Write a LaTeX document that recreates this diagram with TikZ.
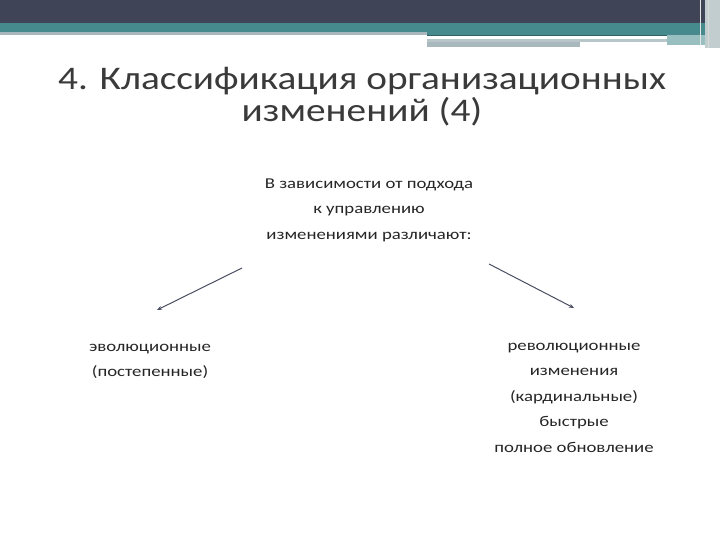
\documentclass[tikz,border=0pt]{standalone}
\usepackage{fontspec}
\setmainfont{Carlito}
\newfontfamily\titlefont[FakeStretch=1.19]{Carlito}
\newfontfamily\bodyfont[FakeStretch=1.25]{Carlito}
\usetikzlibrary{arrows.meta}
\definecolor{topdark}{HTML}{3F4456}
\definecolor{teal1}{HTML}{468A8E}
\definecolor{lgray}{HTML}{A8B8BC}
\definecolor{arrowc}{HTML}{4A4E62}
\definecolor{titlec}{HTML}{3A3A3A}
\tikzset{
  body/.style={align=center, font=\bodyfont\fontsize{15}{25.5}\selectfont, text=black!85, inner sep=0pt},
  conn/.style={draw=arrowc, line width=1pt, -{Stealth[length=5pt,width=4pt]}},
}
\begin{document}
\begin{tikzpicture}[x=1pt,y=1pt]
\useasboundingbox (0,0) rectangle (720,540);
\fill[white] (0,0) rectangle (720,540);
% top band
\fill[topdark] (0,540) rectangle (720,517);
\fill[teal1] (0,517) rectangle (720,508);
\fill[lgray] (0,508) rectangle (427,505);
\fill[teal1] (427,508) rectangle (705,505);
\fill[teal1!70!black] (427,505) rectangle (667,504);
\fill[lgray!80] (427,501) rectangle (667,498);
\fill[lgray] (427,498) rectangle (580,493);
\fill[teal1!55] (667,505) rectangle (705,495);
\fill[lgray!70!white] (705,540) rectangle (720,492);
\draw[white!80!gray, line width=1pt] (700,540) -- (700,495);
\draw[white!70!gray, line width=1pt] (708,540) -- (708,492);
% title
\node[font=\titlefont\fontsize{33}{33}\selectfont, text=titlec, align=center, inner sep=0pt] (title) at (362,443)
  {4. Классификация организационных\\[-1pt] изменений (4)};
% centre
\node[body] (top) at (369,330) {В зависимости от подхода\\к управлению\\изменениями различают:};
\node[body] (left) at (150,178.5) {эволюционные\\(постепенные)};
\node[body, anchor=north] (right) at (574,197) {революционные\\изменения\\(кардинальные)\\быстрые\\полное обновление};
\coordinate (ls) at (242,272);
\coordinate (le) at (157,230);
\coordinate (rs) at (489,276);
\coordinate (re) at (574,232);
\draw[conn] (ls) -- (le);
\draw[conn] (rs) -- (re);
\end{tikzpicture}
\end{document}
